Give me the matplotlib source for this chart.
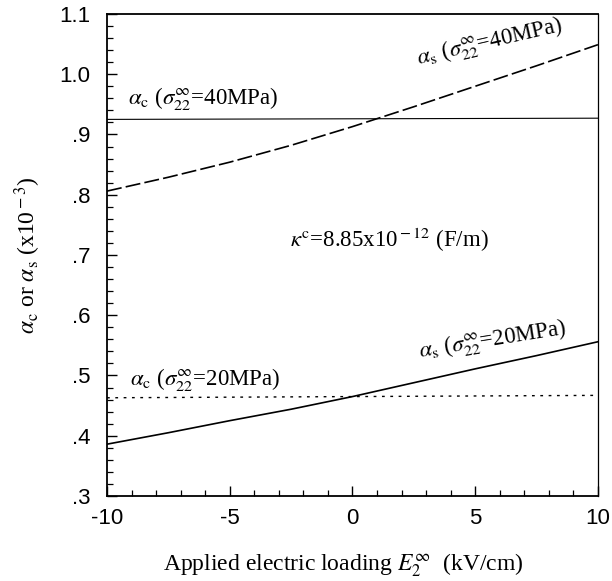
import numpy as np
import matplotlib
matplotlib.use("Agg")
import matplotlib.pyplot as plt
from matplotlib.ticker import MultipleLocator

plt.rcParams['mathtext.fontset'] = 'stix'
serif = "Liberation Serif"
sans = "Liberation Sans"

# applied electric loading E2 (kV/cm)
e_field = [-10, -7.5, -5, -2.5, 0, 2.5, 5, 7.5, 10]
# alpha_s, sigma22 = 40 MPa (dashed)
alpha_s_40 = [0.806, 0.829, 0.854, 0.882, 0.913, 0.946, 0.980, 1.014, 1.049]
# alpha_s, sigma22 = 20 MPa (solid)
alpha_s_20 = [0.386, 0.405, 0.425, 0.444, 0.465, 0.488, 0.511, 0.533, 0.556]
# alpha_c, constant lines
e_ends = [-10, 10]
alpha_c_40 = [0.925, 0.927]
alpha_c_20 = [0.463, 0.467]

fig = plt.figure(figsize=(6.12, 5.81), dpi=100)
ax = fig.add_axes([0.1748, 0.1463, 0.8022, 0.8297])

ax.plot(e_ends, alpha_c_40, color="black", linewidth=0.8)
ax.plot(e_field, alpha_s_40, color="black", linewidth=1.2, dashes=(9, 2.5))
ax.plot(e_ends, alpha_c_20, color="black", linewidth=1.0, dashes=(2, 4))
ax.plot(e_field, alpha_s_20, color="black", linewidth=1.2)

ax.set_xlim(-10, 10)
ax.set_ylim(0.3, 1.1)
ax.xaxis.set_major_locator(MultipleLocator(5))
ax.xaxis.set_minor_locator(MultipleLocator(1))
ax.yaxis.set_major_locator(MultipleLocator(0.1))
ax.yaxis.set_minor_locator(MultipleLocator(0.02))
ax.tick_params(which="both", direction="in", top=False, right=False)
ax.tick_params(which="major", length=7, width=1.0)
ax.tick_params(which="minor", length=4, width=0.9)
ax.tick_params(axis="y", which="major", pad=12)
ax.tick_params(axis="x", which="major", pad=9)

ytick_vals = [0.3, 0.4, 0.5, 0.6, 0.7, 0.8, 0.9, 1.0, 1.1]
ytick_labels = [".3", ".4", ".5", ".6", ".7", ".8", ".9", "1.0", "1.1"]
xtick_vals = [-10, -5, 0, 5, 10]
xtick_labels = ["-10", "-5", "0", "5", "10"]
ax.set_yticks(ytick_vals)
ax.set_yticklabels(ytick_labels, fontfamily=sans, fontsize=16)
ax.set_xticks(xtick_vals)
ax.set_xticklabels(xtick_labels, fontfamily=sans, fontsize=16)

for s in ["left", "bottom", "top"]:
    ax.spines[s].set_linewidth(1.3)
ax.spines["right"].set_linewidth(0.9)

fs = 16.5
ax.text(-9.14, 0.959, r"$\alpha_{\rm c}$ ($\sigma^{\infty}_{22}$=40MPa)",
        fontfamily=serif, fontsize=fs, ha="left", va="center")
ax.text(5.6, 1.054, r"$\alpha_{\rm s}$ ($\sigma^{\infty}_{22}$=40MPa)",
        fontfamily=serif, fontsize=fs, ha="center", va="center", rotation=13)
ax.text(1.5, 0.725, r"$\kappa^{\rm c}$=8.85x10$^{\rm -12}$ (F/m)",
        fontfamily=serif, fontsize=fs, ha="center", va="center")
ax.text(-9.06, 0.494, r"$\alpha_{\rm c}$ ($\sigma^{\infty}_{22}$=20MPa)",
        fontfamily=serif, fontsize=fs, ha="left", va="center")
ax.text(5.72, 0.559, r"$\alpha_{\rm s}$ ($\sigma^{\infty}_{22}$=20MPa)",
        fontfamily=serif, fontsize=fs, ha="center", va="center", rotation=9)

ax.set_xlabel(r"Applied electric loading $E^{\infty}_{2}$  (kV/cm)",
              fontfamily=serif, fontsize=17)
ax.xaxis.set_label_coords(0.482, -0.115)
ax.set_ylabel(r"$\alpha_{\rm c}$ or $\alpha_{\rm s}$ (x10$^{\rm -3}$)",
              fontfamily=serif, fontsize=17, labelpad=12)

fig.savefig("out.png", dpi=100)
